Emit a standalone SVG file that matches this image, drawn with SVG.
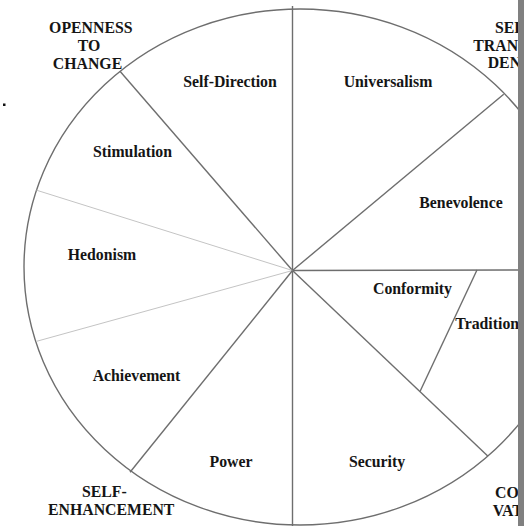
<svg xmlns="http://www.w3.org/2000/svg" width="524" height="526" viewBox="0 0 524 526">
<style>
text{font-family:"Liberation Serif","Times New Roman",serif;font-weight:bold;font-size:15.8px;fill:#151515}
.m{text-anchor:middle}
.ln{stroke:#6e6e6e;stroke-width:1.4;fill:none}
.lt{stroke:#c4c4c4;stroke-width:1;fill:none}
</style>
<rect x="0" y="0" width="524" height="526" fill="#ffffff"/>
<g id="outline">
<ellipse cx="300" cy="267" rx="276" ry="258" class="ln"/>
</g>
<g id="connectors">
<line x1="292.5" y1="270.5" x2="292.5" y2="6" class="ln"/>
<line x1="292.5" y1="270.5" x2="292.5" y2="526" class="ln"/>
<line x1="292.5" y1="270.5" x2="518" y2="270" class="ln"/>
<line x1="292.5" y1="270.5" x2="120" y2="71.3" class="ln"/>
<line x1="292.5" y1="270.5" x2="503.7" y2="94.3" class="ln"/>
<line x1="292.5" y1="270.5" x2="36.5" y2="190.2" class="lt"/>
<line x1="292.5" y1="270.5" x2="36.3" y2="341.4" class="lt"/>
<line x1="292.5" y1="270.5" x2="130" y2="472.3" class="ln"/>
<line x1="292.5" y1="270.5" x2="488" y2="456.3" class="ln"/>
<line x1="420" y1="391.5" x2="477" y2="270" class="ln"/>
</g>
<g id="openness"><text class="m" x="90.8" y="33">OPENNESS</text><text class="m" x="89" y="50.5">TO</text><text class="m" x="87.5" y="69">CHANGE</text></g>
<g id="self-direction"><text class="m" x="230" y="87">Self-Direction</text></g>
<g id="universalism"><text class="m" x="388" y="87">Universalism</text></g>
<g id="stimulation"><text class="m" x="132.5" y="157">Stimulation</text></g>
<g id="benevolence"><text class="m" x="461" y="208">Benevolence</text></g>
<g id="hedonism"><text class="m" x="102" y="259.5">Hedonism</text></g>
<g id="achievement"><text class="m" x="136.5" y="381">Achievement</text></g>
<g id="power"><text class="m" x="231" y="467">Power</text></g>
<g id="security"><text class="m" x="377" y="466.5">Security</text></g>
<g id="conformity"><text class="m" x="412.5" y="294.3">Conformity</text></g>
<g id="tradition"><text x="455.3" y="328.6">Tradition</text></g>
<g id="self-enhancement"><text x="82" y="497">SELF-</text><text x="48" y="515">ENHANCEMENT</text></g>
<g id="self-transcendence"><text x="495" y="33">SEL</text><text x="473.3" y="51">TRANS</text><text x="487.7" y="68.3">DEN</text></g>
<g id="conservation"><text x="495" y="498">CO</text><text x="492.7" y="515.7">VAT</text></g>
<rect x="3" y="103.5" width="2.5" height="2.5" fill="#111"/>
<rect x="518" y="0" width="6" height="526" fill="#808080"/>
</svg>
